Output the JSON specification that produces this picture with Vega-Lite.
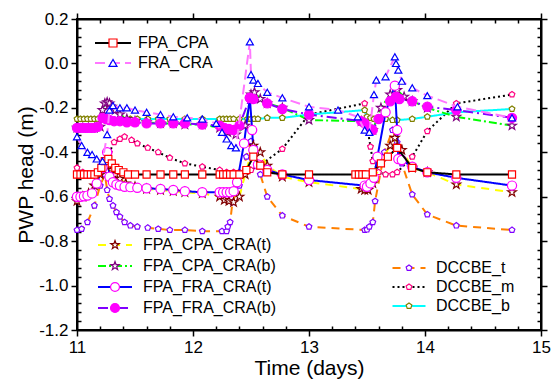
{
"$schema":"https://vega.github.io/schema/vega-lite/v6.json",
"width":464,"height":311,"autosize":"none",
"padding":{"left":77,"top":19,"right":11,"bottom":52},
"background":"white",
"config":{"view":{"stroke":"black","strokeWidth":2},"font":"Liberation Sans",
"axis":{"grid":false,"domainColor":"black","domainWidth":2,"tickColor":"black","tickWidth":1.5,"labelFont":"Liberation Sans","labelFontSize":17,"labelColor":"black","titleFont":"Liberation Sans","titleFontSize":21,"titleFontWeight":"normal","titleColor":"black","labelFlush":false,"labelOverlap":false,"labelPadding":3}},
"datasets":{
"g1":[
{"s":"FPA_CPA","x":11.0,"y":-0.5},{"s":"FPA_CPA","x":11.03,"y":-0.5},{"s":"FPA_CPA","x":11.06,"y":-0.5},{"s":"FPA_CPA","x":11.09,"y":-0.5},{"s":"FPA_CPA","x":11.12,"y":-0.5},{"s":"FPA_CPA","x":11.15,"y":-0.5},{"s":"FPA_CPA","x":11.18,"y":-0.49},{"s":"FPA_CPA","x":11.21,"y":-0.47},{"s":"FPA_CPA","x":11.24,"y":-0.44},{"s":"FPA_CPA","x":11.27,"y":-0.43},{"s":"FPA_CPA","x":11.3,"y":-0.45},{"s":"FPA_CPA","x":11.33,"y":-0.47},{"s":"FPA_CPA","x":11.36,"y":-0.48},{"s":"FPA_CPA","x":11.4,"y":-0.49},{"s":"FPA_CPA","x":11.44,"y":-0.5},{"s":"FPA_CPA","x":11.5,"y":-0.5},{"s":"FPA_CPA","x":11.6,"y":-0.5},{"s":"FPA_CPA","x":11.72,"y":-0.5},{"s":"FPA_CPA","x":11.83,"y":-0.5},{"s":"FPA_CPA","x":11.93,"y":-0.5},{"s":"FPA_CPA","x":12.08,"y":-0.5},{"s":"FPA_CPA","x":12.23,"y":-0.5},{"s":"FPA_CPA","x":12.26,"y":-0.5},{"s":"FPA_CPA","x":12.29,"y":-0.5},{"s":"FPA_CPA","x":12.32,"y":-0.5},{"s":"FPA_CPA","x":12.35,"y":-0.5},{"s":"FPA_CPA","x":12.4,"y":-0.5},{"s":"FPA_CPA","x":12.46,"y":-0.48},{"s":"FPA_CPA","x":12.52,"y":-0.42},{"s":"FPA_CPA","x":12.58,"y":-0.46},{"s":"FPA_CPA","x":12.64,"y":-0.49},{"s":"FPA_CPA","x":12.77,"y":-0.5},{"s":"FPA_CPA","x":13.0,"y":-0.5},{"s":"FPA_CPA","x":13.4,"y":-0.5},{"s":"FPA_CPA","x":13.43,"y":-0.5},{"s":"FPA_CPA","x":13.46,"y":-0.5},{"s":"FPA_CPA","x":13.49,"y":-0.5},{"s":"FPA_CPA","x":13.55,"y":-0.49},{"s":"FPA_CPA","x":13.62,"y":-0.45},{"s":"FPA_CPA","x":13.68,"y":-0.42},{"s":"FPA_CPA","x":13.76,"y":-0.38},{"s":"FPA_CPA","x":13.89,"y":-0.47},{"s":"FPA_CPA","x":14.02,"y":-0.49},{"s":"FPA_CPA","x":14.27,"y":-0.5},{"s":"FPA_CPA","x":14.75,"y":-0.5},
{"s":"FRA_CRA","x":11.0,"y":-0.33},{"s":"FRA_CRA","x":11.04,"y":-0.37},{"s":"FRA_CRA","x":11.09,"y":-0.4},{"s":"FRA_CRA","x":11.13,"y":-0.41},{"s":"FRA_CRA","x":11.17,"y":-0.43},{"s":"FRA_CRA","x":11.22,"y":-0.44},{"s":"FRA_CRA","x":11.26,"y":-0.32},{"s":"FRA_CRA","x":11.28,"y":-0.21},{"s":"FRA_CRA","x":11.31,"y":-0.19},{"s":"FRA_CRA","x":11.37,"y":-0.2},{"s":"FRA_CRA","x":11.43,"y":-0.2},{"s":"FRA_CRA","x":11.5,"y":-0.21},{"s":"FRA_CRA","x":11.6,"y":-0.22},{"s":"FRA_CRA","x":11.72,"y":-0.23},{"s":"FRA_CRA","x":11.83,"y":-0.24},{"s":"FRA_CRA","x":11.95,"y":-0.245},{"s":"FRA_CRA","x":12.08,"y":-0.25},{"s":"FRA_CRA","x":12.2,"y":-0.27},{"s":"FRA_CRA","x":12.25,"y":-0.31},{"s":"FRA_CRA","x":12.29,"y":-0.34},{"s":"FRA_CRA","x":12.33,"y":-0.37},{"s":"FRA_CRA","x":12.37,"y":-0.38},{"s":"FRA_CRA","x":12.49,"y":0.097},{"s":"FRA_CRA","x":12.5,"y":-0.05},{"s":"FRA_CRA","x":12.52,"y":-0.075},{"s":"FRA_CRA","x":12.56,"y":-0.09},{"s":"FRA_CRA","x":12.64,"y":-0.13},{"s":"FRA_CRA","x":12.77,"y":-0.155},{"s":"FRA_CRA","x":13.0,"y":-0.195},{"s":"FRA_CRA","x":13.25,"y":-0.21},{"s":"FRA_CRA","x":13.42,"y":-0.24},{"s":"FRA_CRA","x":13.48,"y":-0.3},{"s":"FRA_CRA","x":13.52,"y":-0.31},{"s":"FRA_CRA","x":13.56,"y":-0.14},{"s":"FRA_CRA","x":13.58,"y":-0.075},{"s":"FRA_CRA","x":13.66,"y":-0.06},{"s":"FRA_CRA","x":13.74,"y":0.03},{"s":"FRA_CRA","x":13.75,"y":0.0},{"s":"FRA_CRA","x":13.77,"y":-0.03},{"s":"FRA_CRA","x":13.8,"y":-0.08},{"s":"FRA_CRA","x":13.89,"y":-0.11},{"s":"FRA_CRA","x":14.02,"y":-0.145},{"s":"FRA_CRA","x":14.28,"y":-0.195},{"s":"FRA_CRA","x":14.75,"y":-0.245}
],
"g2":[
{"s":"FPA_CPA_CRA(t)","x":11.0,"y":-0.62},{"s":"FPA_CPA_CRA(t)","x":11.05,"y":-0.6},{"s":"FPA_CPA_CRA(t)","x":11.1,"y":-0.585},{"s":"FPA_CPA_CRA(t)","x":11.15,"y":-0.55},{"s":"FPA_CPA_CRA(t)","x":11.2,"y":-0.5},{"s":"FPA_CPA_CRA(t)","x":11.24,"y":-0.45},{"s":"FPA_CPA_CRA(t)","x":11.27,"y":-0.46},{"s":"FPA_CPA_CRA(t)","x":11.3,"y":-0.48},{"s":"FPA_CPA_CRA(t)","x":11.33,"y":-0.5},{"s":"FPA_CPA_CRA(t)","x":11.37,"y":-0.52},{"s":"FPA_CPA_CRA(t)","x":11.42,"y":-0.54},{"s":"FPA_CPA_CRA(t)","x":11.5,"y":-0.555},{"s":"FPA_CPA_CRA(t)","x":11.6,"y":-0.565},{"s":"FPA_CPA_CRA(t)","x":11.72,"y":-0.57},{"s":"FPA_CPA_CRA(t)","x":11.83,"y":-0.575},{"s":"FPA_CPA_CRA(t)","x":11.93,"y":-0.58},{"s":"FPA_CPA_CRA(t)","x":12.08,"y":-0.585},{"s":"FPA_CPA_CRA(t)","x":12.23,"y":-0.6},{"s":"FPA_CPA_CRA(t)","x":12.27,"y":-0.615},{"s":"FPA_CPA_CRA(t)","x":12.31,"y":-0.62},{"s":"FPA_CPA_CRA(t)","x":12.35,"y":-0.625},{"s":"FPA_CPA_CRA(t)","x":12.4,"y":-0.6},{"s":"FPA_CPA_CRA(t)","x":12.45,"y":-0.5},{"s":"FPA_CPA_CRA(t)","x":12.52,"y":-0.37},{"s":"FPA_CPA_CRA(t)","x":12.58,"y":-0.4},{"s":"FPA_CPA_CRA(t)","x":12.64,"y":-0.46},{"s":"FPA_CPA_CRA(t)","x":12.77,"y":-0.51},{"s":"FPA_CPA_CRA(t)","x":13.0,"y":-0.535},{"s":"FPA_CPA_CRA(t)","x":13.45,"y":-0.565},{"s":"FPA_CPA_CRA(t)","x":13.48,"y":-0.57},{"s":"FPA_CPA_CRA(t)","x":13.51,"y":-0.57},{"s":"FPA_CPA_CRA(t)","x":13.55,"y":-0.54},{"s":"FPA_CPA_CRA(t)","x":13.62,"y":-0.445},{"s":"FPA_CPA_CRA(t)","x":13.7,"y":-0.37},{"s":"FPA_CPA_CRA(t)","x":13.74,"y":-0.335},{"s":"FPA_CPA_CRA(t)","x":13.76,"y":-0.375},{"s":"FPA_CPA_CRA(t)","x":13.8,"y":-0.39},{"s":"FPA_CPA_CRA(t)","x":13.89,"y":-0.47},{"s":"FPA_CPA_CRA(t)","x":14.02,"y":-0.49},{"s":"FPA_CPA_CRA(t)","x":14.27,"y":-0.545},{"s":"FPA_CPA_CRA(t)","x":14.75,"y":-0.58},
{"s":"FPA_CPA_CRA(b)","x":11.0,"y":-0.29},{"s":"FPA_CPA_CRA(b)","x":11.05,"y":-0.29},{"s":"FPA_CPA_CRA(b)","x":11.1,"y":-0.29},{"s":"FPA_CPA_CRA(b)","x":11.15,"y":-0.29},{"s":"FPA_CPA_CRA(b)","x":11.2,"y":-0.285},{"s":"FPA_CPA_CRA(b)","x":11.22,"y":-0.21},{"s":"FPA_CPA_CRA(b)","x":11.24,"y":-0.18},{"s":"FPA_CPA_CRA(b)","x":11.26,"y":-0.175},{"s":"FPA_CPA_CRA(b)","x":11.28,"y":-0.18},{"s":"FPA_CPA_CRA(b)","x":11.3,"y":-0.195},{"s":"FPA_CPA_CRA(b)","x":11.33,"y":-0.21},{"s":"FPA_CPA_CRA(b)","x":11.37,"y":-0.23},{"s":"FPA_CPA_CRA(b)","x":11.43,"y":-0.25},{"s":"FPA_CPA_CRA(b)","x":11.5,"y":-0.26},{"s":"FPA_CPA_CRA(b)","x":11.6,"y":-0.265},{"s":"FPA_CPA_CRA(b)","x":11.72,"y":-0.27},{"s":"FPA_CPA_CRA(b)","x":11.83,"y":-0.27},{"s":"FPA_CPA_CRA(b)","x":11.93,"y":-0.275},{"s":"FPA_CPA_CRA(b)","x":12.08,"y":-0.275},{"s":"FPA_CPA_CRA(b)","x":12.23,"y":-0.29},{"s":"FPA_CPA_CRA(b)","x":12.3,"y":-0.31},{"s":"FPA_CPA_CRA(b)","x":12.37,"y":-0.32},{"s":"FPA_CPA_CRA(b)","x":12.45,"y":-0.28},{"s":"FPA_CPA_CRA(b)","x":12.5,"y":-0.14},{"s":"FPA_CPA_CRA(b)","x":12.53,"y":-0.13},{"s":"FPA_CPA_CRA(b)","x":12.58,"y":-0.16},{"s":"FPA_CPA_CRA(b)","x":12.64,"y":-0.18},{"s":"FPA_CPA_CRA(b)","x":12.77,"y":-0.2},{"s":"FPA_CPA_CRA(b)","x":13.0,"y":-0.255},{"s":"FPA_CPA_CRA(b)","x":13.45,"y":-0.26},{"s":"FPA_CPA_CRA(b)","x":13.5,"y":-0.29},{"s":"FPA_CPA_CRA(b)","x":13.55,"y":-0.3},{"s":"FPA_CPA_CRA(b)","x":13.62,"y":-0.2},{"s":"FPA_CPA_CRA(b)","x":13.7,"y":-0.14},{"s":"FPA_CPA_CRA(b)","x":13.76,"y":-0.12},{"s":"FPA_CPA_CRA(b)","x":13.82,"y":-0.15},{"s":"FPA_CPA_CRA(b)","x":13.89,"y":-0.17},{"s":"FPA_CPA_CRA(b)","x":14.02,"y":-0.2},{"s":"FPA_CPA_CRA(b)","x":14.27,"y":-0.24},{"s":"FPA_CPA_CRA(b)","x":14.75,"y":-0.28},
{"s":"FPA_FRA_CRA(t)","x":11.0,"y":-0.6},{"s":"FPA_FRA_CRA(t)","x":11.03,"y":-0.6},{"s":"FPA_FRA_CRA(t)","x":11.06,"y":-0.598},{"s":"FPA_FRA_CRA(t)","x":11.09,"y":-0.595},{"s":"FPA_FRA_CRA(t)","x":11.13,"y":-0.585},{"s":"FPA_FRA_CRA(t)","x":11.17,"y":-0.54},{"s":"FPA_FRA_CRA(t)","x":11.22,"y":-0.47},{"s":"FPA_FRA_CRA(t)","x":11.26,"y":-0.4},{"s":"FPA_FRA_CRA(t)","x":11.28,"y":-0.51},{"s":"FPA_FRA_CRA(t)","x":11.31,"y":-0.535},{"s":"FPA_FRA_CRA(t)","x":11.34,"y":-0.545},{"s":"FPA_FRA_CRA(t)","x":11.37,"y":-0.55},{"s":"FPA_FRA_CRA(t)","x":11.41,"y":-0.555},{"s":"FPA_FRA_CRA(t)","x":11.46,"y":-0.557},{"s":"FPA_FRA_CRA(t)","x":11.52,"y":-0.56},{"s":"FPA_FRA_CRA(t)","x":11.6,"y":-0.562},{"s":"FPA_FRA_CRA(t)","x":11.72,"y":-0.565},{"s":"FPA_FRA_CRA(t)","x":11.83,"y":-0.57},{"s":"FPA_FRA_CRA(t)","x":11.93,"y":-0.575},{"s":"FPA_FRA_CRA(t)","x":12.08,"y":-0.58},{"s":"FPA_FRA_CRA(t)","x":12.23,"y":-0.58},{"s":"FPA_FRA_CRA(t)","x":12.26,"y":-0.58},{"s":"FPA_FRA_CRA(t)","x":12.29,"y":-0.58},{"s":"FPA_FRA_CRA(t)","x":12.32,"y":-0.58},{"s":"FPA_FRA_CRA(t)","x":12.35,"y":-0.575},{"s":"FPA_FRA_CRA(t)","x":12.38,"y":-0.535},{"s":"FPA_FRA_CRA(t)","x":12.44,"y":-0.36},{"s":"FPA_FRA_CRA(t)","x":12.49,"y":-0.155},{"s":"FPA_FRA_CRA(t)","x":12.51,"y":-0.3},{"s":"FPA_FRA_CRA(t)","x":12.52,"y":-0.39},{"s":"FPA_FRA_CRA(t)","x":12.56,"y":-0.455},{"s":"FPA_FRA_CRA(t)","x":12.64,"y":-0.48},{"s":"FPA_FRA_CRA(t)","x":12.77,"y":-0.5},{"s":"FPA_FRA_CRA(t)","x":13.0,"y":-0.525},{"s":"FPA_FRA_CRA(t)","x":13.48,"y":-0.55},{"s":"FPA_FRA_CRA(t)","x":13.5,"y":-0.555},{"s":"FPA_FRA_CRA(t)","x":13.53,"y":-0.54},{"s":"FPA_FRA_CRA(t)","x":13.56,"y":-0.515},{"s":"FPA_FRA_CRA(t)","x":13.59,"y":-0.42},{"s":"FPA_FRA_CRA(t)","x":13.66,"y":-0.22},{"s":"FPA_FRA_CRA(t)","x":13.74,"y":-0.1},{"s":"FPA_FRA_CRA(t)","x":13.76,"y":-0.3},{"s":"FPA_FRA_CRA(t)","x":13.77,"y":-0.43},{"s":"FPA_FRA_CRA(t)","x":13.8,"y":-0.435},{"s":"FPA_FRA_CRA(t)","x":13.89,"y":-0.465},{"s":"FPA_FRA_CRA(t)","x":14.02,"y":-0.49},{"s":"FPA_FRA_CRA(t)","x":14.27,"y":-0.515},{"s":"FPA_FRA_CRA(t)","x":14.75,"y":-0.55},
{"s":"FPA_FRA_CRA(b)","x":11.0,"y":-0.29},{"s":"FPA_FRA_CRA(b)","x":11.03,"y":-0.29},{"s":"FPA_FRA_CRA(b)","x":11.06,"y":-0.29},{"s":"FPA_FRA_CRA(b)","x":11.09,"y":-0.29},{"s":"FPA_FRA_CRA(b)","x":11.12,"y":-0.29},{"s":"FPA_FRA_CRA(b)","x":11.15,"y":-0.29},{"s":"FPA_FRA_CRA(b)","x":11.18,"y":-0.285},{"s":"FPA_FRA_CRA(b)","x":11.22,"y":-0.245},{"s":"FPA_FRA_CRA(b)","x":11.25,"y":-0.25},{"s":"FPA_FRA_CRA(b)","x":11.28,"y":-0.255},{"s":"FPA_FRA_CRA(b)","x":11.32,"y":-0.26},{"s":"FPA_FRA_CRA(b)","x":11.37,"y":-0.26},{"s":"FPA_FRA_CRA(b)","x":11.43,"y":-0.265},{"s":"FPA_FRA_CRA(b)","x":11.5,"y":-0.265},{"s":"FPA_FRA_CRA(b)","x":11.6,"y":-0.27},{"s":"FPA_FRA_CRA(b)","x":11.72,"y":-0.27},{"s":"FPA_FRA_CRA(b)","x":11.83,"y":-0.27},{"s":"FPA_FRA_CRA(b)","x":11.93,"y":-0.27},{"s":"FPA_FRA_CRA(b)","x":12.08,"y":-0.275},{"s":"FPA_FRA_CRA(b)","x":12.23,"y":-0.28},{"s":"FPA_FRA_CRA(b)","x":12.27,"y":-0.29},{"s":"FPA_FRA_CRA(b)","x":12.31,"y":-0.295},{"s":"FPA_FRA_CRA(b)","x":12.35,"y":-0.3},{"s":"FPA_FRA_CRA(b)","x":12.4,"y":-0.28},{"s":"FPA_FRA_CRA(b)","x":12.49,"y":-0.155},{"s":"FPA_FRA_CRA(b)","x":12.52,"y":-0.16},{"s":"FPA_FRA_CRA(b)","x":12.64,"y":-0.18},{"s":"FPA_FRA_CRA(b)","x":12.77,"y":-0.205},{"s":"FPA_FRA_CRA(b)","x":13.0,"y":-0.23},{"s":"FPA_FRA_CRA(b)","x":13.45,"y":-0.26},{"s":"FPA_FRA_CRA(b)","x":13.48,"y":-0.27},{"s":"FPA_FRA_CRA(b)","x":13.51,"y":-0.29},{"s":"FPA_FRA_CRA(b)","x":13.55,"y":-0.3},{"s":"FPA_FRA_CRA(b)","x":13.6,"y":-0.25},{"s":"FPA_FRA_CRA(b)","x":13.7,"y":-0.17},{"s":"FPA_FRA_CRA(b)","x":13.75,"y":-0.15},{"s":"FPA_FRA_CRA(b)","x":13.78,"y":-0.16},{"s":"FPA_FRA_CRA(b)","x":13.89,"y":-0.17},{"s":"FPA_FRA_CRA(b)","x":14.02,"y":-0.195},{"s":"FPA_FRA_CRA(b)","x":14.27,"y":-0.21},{"s":"FPA_FRA_CRA(b)","x":14.75,"y":-0.245}
],
"g3":[
{"s":"DCCBE_t","x":11.0,"y":-0.75},{"s":"DCCBE_t","x":11.04,"y":-0.745},{"s":"DCCBE_t","x":11.09,"y":-0.715},{"s":"DCCBE_t","x":11.15,"y":-0.64},{"s":"DCCBE_t","x":11.2,"y":-0.55},{"s":"DCCBE_t","x":11.24,"y":-0.5},{"s":"DCCBE_t","x":11.26,"y":-0.57},{"s":"DCCBE_t","x":11.28,"y":-0.61},{"s":"DCCBE_t","x":11.31,"y":-0.64},{"s":"DCCBE_t","x":11.34,"y":-0.67},{"s":"DCCBE_t","x":11.37,"y":-0.69},{"s":"DCCBE_t","x":11.41,"y":-0.715},{"s":"DCCBE_t","x":11.46,"y":-0.73},{"s":"DCCBE_t","x":11.52,"y":-0.735},{"s":"DCCBE_t","x":11.61,"y":-0.74},{"s":"DCCBE_t","x":11.7,"y":-0.745},{"s":"DCCBE_t","x":11.8,"y":-0.75},{"s":"DCCBE_t","x":11.93,"y":-0.75},{"s":"DCCBE_t","x":12.08,"y":-0.755},{"s":"DCCBE_t","x":12.25,"y":-0.755},{"s":"DCCBE_t","x":12.29,"y":-0.755},{"s":"DCCBE_t","x":12.3,"y":-0.735},{"s":"DCCBE_t","x":12.32,"y":-0.715},{"s":"DCCBE_t","x":12.34,"y":-0.625},{"s":"DCCBE_t","x":12.4,"y":-0.55},{"s":"DCCBE_t","x":12.46,"y":-0.42},{"s":"DCCBE_t","x":12.5,"y":-0.35},{"s":"DCCBE_t","x":12.53,"y":-0.38},{"s":"DCCBE_t","x":12.58,"y":-0.5},{"s":"DCCBE_t","x":12.64,"y":-0.6},{"s":"DCCBE_t","x":12.77,"y":-0.685},{"s":"DCCBE_t","x":13.0,"y":-0.735},{"s":"DCCBE_t","x":13.48,"y":-0.75},{"s":"DCCBE_t","x":13.5,"y":-0.748},{"s":"DCCBE_t","x":13.52,"y":-0.735},{"s":"DCCBE_t","x":13.55,"y":-0.715},{"s":"DCCBE_t","x":13.57,"y":-0.62},{"s":"DCCBE_t","x":13.65,"y":-0.4},{"s":"DCCBE_t","x":13.72,"y":-0.3},{"s":"DCCBE_t","x":13.76,"y":-0.355},{"s":"DCCBE_t","x":13.8,"y":-0.45},{"s":"DCCBE_t","x":13.89,"y":-0.59},{"s":"DCCBE_t","x":14.02,"y":-0.68},{"s":"DCCBE_t","x":14.27,"y":-0.73},{"s":"DCCBE_t","x":14.75,"y":-0.75},
{"s":"DCCBE_m","x":11.0,"y":-0.47},{"s":"DCCBE_m","x":11.05,"y":-0.49},{"s":"DCCBE_m","x":11.1,"y":-0.5},{"s":"DCCBE_m","x":11.15,"y":-0.5},{"s":"DCCBE_m","x":11.2,"y":-0.48},{"s":"DCCBE_m","x":11.28,"y":-0.4},{"s":"DCCBE_m","x":11.32,"y":-0.355},{"s":"DCCBE_m","x":11.37,"y":-0.34},{"s":"DCCBE_m","x":11.41,"y":-0.33},{"s":"DCCBE_m","x":11.47,"y":-0.345},{"s":"DCCBE_m","x":11.52,"y":-0.36},{"s":"DCCBE_m","x":11.61,"y":-0.38},{"s":"DCCBE_m","x":11.7,"y":-0.4},{"s":"DCCBE_m","x":11.8,"y":-0.425},{"s":"DCCBE_m","x":11.93,"y":-0.45},{"s":"DCCBE_m","x":12.08,"y":-0.465},{"s":"DCCBE_m","x":12.23,"y":-0.48},{"s":"DCCBE_m","x":12.29,"y":-0.49},{"s":"DCCBE_m","x":12.35,"y":-0.49},{"s":"DCCBE_m","x":12.4,"y":-0.49},{"s":"DCCBE_m","x":12.5,"y":-0.48},{"s":"DCCBE_m","x":12.6,"y":-0.45},{"s":"DCCBE_m","x":12.77,"y":-0.385},{"s":"DCCBE_m","x":13.0,"y":-0.23},{"s":"DCCBE_m","x":13.48,"y":-0.18},{"s":"DCCBE_m","x":13.5,"y":-0.28},{"s":"DCCBE_m","x":13.53,"y":-0.375},{"s":"DCCBE_m","x":13.55,"y":-0.44},{"s":"DCCBE_m","x":13.6,"y":-0.49},{"s":"DCCBE_m","x":13.66,"y":-0.5},{"s":"DCCBE_m","x":13.72,"y":-0.5},{"s":"DCCBE_m","x":13.76,"y":-0.49},{"s":"DCCBE_m","x":13.89,"y":-0.42},{"s":"DCCBE_m","x":14.02,"y":-0.305},{"s":"DCCBE_m","x":14.27,"y":-0.18},{"s":"DCCBE_m","x":14.75,"y":-0.14},
{"s":"DCCBE_b","x":11.0,"y":-0.25},{"s":"DCCBE_b","x":11.03,"y":-0.25},{"s":"DCCBE_b","x":11.06,"y":-0.25},{"s":"DCCBE_b","x":11.09,"y":-0.25},{"s":"DCCBE_b","x":11.12,"y":-0.25},{"s":"DCCBE_b","x":11.15,"y":-0.25},{"s":"DCCBE_b","x":11.18,"y":-0.25},{"s":"DCCBE_b","x":11.23,"y":-0.255},{"s":"DCCBE_b","x":11.26,"y":-0.255},{"s":"DCCBE_b","x":11.29,"y":-0.255},{"s":"DCCBE_b","x":11.32,"y":-0.255},{"s":"DCCBE_b","x":11.36,"y":-0.255},{"s":"DCCBE_b","x":11.4,"y":-0.253},{"s":"DCCBE_b","x":11.46,"y":-0.25},{"s":"DCCBE_b","x":11.52,"y":-0.25},{"s":"DCCBE_b","x":11.61,"y":-0.25},{"s":"DCCBE_b","x":11.7,"y":-0.25},{"s":"DCCBE_b","x":11.8,"y":-0.25},{"s":"DCCBE_b","x":11.93,"y":-0.25},{"s":"DCCBE_b","x":12.08,"y":-0.25},{"s":"DCCBE_b","x":12.23,"y":-0.25},{"s":"DCCBE_b","x":12.26,"y":-0.25},{"s":"DCCBE_b","x":12.29,"y":-0.25},{"s":"DCCBE_b","x":12.32,"y":-0.25},{"s":"DCCBE_b","x":12.35,"y":-0.25},{"s":"DCCBE_b","x":12.4,"y":-0.25},{"s":"DCCBE_b","x":12.47,"y":-0.25},{"s":"DCCBE_b","x":12.5,"y":-0.25},{"s":"DCCBE_b","x":12.53,"y":-0.25},{"s":"DCCBE_b","x":12.56,"y":-0.25},{"s":"DCCBE_b","x":12.64,"y":-0.245},{"s":"DCCBE_b","x":12.77,"y":-0.245},{"s":"DCCBE_b","x":13.0,"y":-0.23},{"s":"DCCBE_b","x":13.48,"y":-0.21},{"s":"DCCBE_b","x":13.5,"y":-0.24},{"s":"DCCBE_b","x":13.53,"y":-0.245},{"s":"DCCBE_b","x":13.56,"y":-0.25},{"s":"DCCBE_b","x":13.6,"y":-0.25},{"s":"DCCBE_b","x":13.66,"y":-0.25},{"s":"DCCBE_b","x":13.72,"y":-0.255},{"s":"DCCBE_b","x":13.76,"y":-0.255},{"s":"DCCBE_b","x":13.89,"y":-0.25},{"s":"DCCBE_b","x":14.02,"y":-0.24},{"s":"DCCBE_b","x":14.27,"y":-0.22},{"s":"DCCBE_b","x":14.75,"y":-0.205}
],
"frame":[{"x":11,"y":0}]
},
"layer":[
{"data":{"name":"frame"},"mark":{"type":"point","opacity":0},
"encoding":{
"x":{"field":"x","type":"quantitative","scale":{"domain":[11,15],"nice":false,"zero":false},
"axis":{"orient":"bottom","title":"Time (days)","titlePadding":2,"values":[11,11.2,11.4,11.6,11.8,12,12.2,12.4,12.6,12.8,13,13.2,13.4,13.6,13.8,14,14.2,14.4,14.6,14.8,15],
"labelExpr":"abs(datum.value-round(datum.value))<0.001 ? format(datum.value,'d') : ''",
"tickSize":{"condition":{"test":"abs(datum.value-round(datum.value))<0.001","value":6},"value":-4}}},
"y":{"field":"y","type":"quantitative","scale":{"domain":[-1.2,0.2],"nice":false,"zero":false},
"axis":{"orient":"left","title":"PWP head (m)","titlePadding":2,"values":[-1.2,-1.16,-1.12,-1.08,-1.04,-1,-0.96,-0.92,-0.88,-0.84,-0.8,-0.76,-0.72,-0.68,-0.64,-0.6,-0.56,-0.52,-0.48,-0.44,-0.4,-0.36,-0.32,-0.28,-0.24,-0.2,-0.16,-0.12,-0.08,-0.04,0,0.04,0.08,0.12,0.16,0.2],
"labelExpr":"abs(datum.value*5-round(datum.value*5))<0.001 ? replace(format(datum.value,'.1f'),'−','-') : ''",
"tickSize":{"condition":{"test":"abs(datum.value*5-round(datum.value*5))<0.001","value":6},"value":-4}}}}},
{"data":{"name":"frame"},"mark":{"type":"point","opacity":0},
"encoding":{
"x":{"field":"x","type":"quantitative","scale":{"domain":[11,15],"nice":false,"zero":false},
"axis":{"orient":"top","title":null,"labels":false,"values":[11,11.2,11.4,11.6,11.8,12,12.2,12.4,12.6,12.8,13,13.2,13.4,13.6,13.8,14,14.2,14.4,14.6,14.8,15],
"tickSize":{"condition":{"test":"abs(datum.value-round(datum.value))<0.001","value":6},"value":-4}}},
"y":{"field":"y","type":"quantitative","scale":{"domain":[-1.2,0.2],"nice":false,"zero":false},
"axis":{"orient":"right","title":null,"labels":false,"values":[-1.2,-1.16,-1.12,-1.08,-1.04,-1,-0.96,-0.92,-0.88,-0.84,-0.8,-0.76,-0.72,-0.68,-0.64,-0.6,-0.56,-0.52,-0.48,-0.44,-0.4,-0.36,-0.32,-0.28,-0.24,-0.2,-0.16,-0.12,-0.08,-0.04,0,0.04,0.08,0.12,0.16,0.2],
"tickSize":{"condition":{"test":"abs(datum.value*5-round(datum.value*5))<0.001","value":6},"value":-4}}}}},
{"data":{"name":"g3"},"mark":{"type":"line","strokeWidth":2},
"encoding":{
"x":{"field":"x","type":"quantitative","scale":{"domain":[11,15],"nice":false,"zero":false},"axis":null},
"y":{"field":"y","type":"quantitative","scale":{"domain":[-1.2,0.2],"nice":false,"zero":false},"axis":null},
"color":{"field":"s","type":"nominal","scale":{"domain":["DCCBE_t","DCCBE_m","DCCBE_b"],"range":["#ff8000","#000000","#00ffff"]},
"legend":{"title":null,"orient":"none","legendX":324,"legendY":241,"symbolType":"M-5.5,0H5.5","symbolSize":36,"symbolStrokeWidth":2,"labelOffset":19,"labelFont":"Liberation Sans","labelFontSize":16,"labelColor":"black","rowPadding":3}},
"strokeDash":{"field":"s","type":"nominal","scale":{"domain":["DCCBE_t","DCCBE_m","DCCBE_b"],"range":[[8,6],[2,3],[1,0]]},
"legend":{"title":null,"orient":"none","legendX":324,"legendY":241,"symbolType":"M-5.5,0H5.5","symbolSize":36,"symbolStrokeWidth":2,"labelOffset":19,"labelFont":"Liberation Sans","labelFontSize":16,"labelColor":"black","rowPadding":3}}}},
{"data":{"name":"g3"},"mark":{"type":"point","filled":true,"size":36,"strokeWidth":1.2,"opacity":1},
"encoding":{
"x":{"field":"x","type":"quantitative","scale":{"domain":[11,15],"nice":false,"zero":false},"axis":null},
"y":{"field":"y","type":"quantitative","scale":{"domain":[-1.2,0.2],"nice":false,"zero":false},"axis":null},
"shape":{"field":"s","type":"nominal","scale":{"domain":["DCCBE_t","DCCBE_m","DCCBE_b"],"range":["M0,-1L0.951,-0.309L0.588,0.809L-0.588,0.809L-0.951,-0.309Z","M0,-1L0.951,-0.309L0.588,0.809L-0.588,0.809L-0.951,-0.309Z","M0,-1L0.951,-0.309L0.588,0.809L-0.588,0.809L-0.951,-0.309Z"]},
"legend":{"title":null,"orient":"none","legendX":324,"legendY":241,"symbolSize":36,"symbolStrokeWidth":1.2,"labelOffset":19,"labelFont":"Liberation Sans","labelFontSize":16,"labelOpacity":0,"rowPadding":3}},
"stroke":{"field":"s","type":"nominal","scale":{"domain":["DCCBE_t","DCCBE_m","DCCBE_b"],"range":["#8000ff","#ff0080","#808000"]},
"legend":{"title":null,"orient":"none","legendX":324,"legendY":241,"symbolSize":36,"symbolStrokeWidth":1.2,"labelOffset":19,"labelFont":"Liberation Sans","labelFontSize":16,"labelOpacity":0,"rowPadding":3}},
"fill":{"field":"s","type":"nominal","scale":{"domain":["DCCBE_t","DCCBE_m","DCCBE_b"],"range":["#ffffff","#ffffff","#ffffff"]},
"legend":{"title":null,"orient":"none","legendX":324,"legendY":241,"symbolSize":36,"symbolStrokeWidth":1.2,"labelOffset":19,"labelFont":"Liberation Sans","labelFontSize":16,"labelOpacity":0,"rowPadding":3}}}},
{"data":{"name":"g2"},"mark":{"type":"line","strokeWidth":2},
"encoding":{
"x":{"field":"x","type":"quantitative","scale":{"domain":[11,15],"nice":false,"zero":false},"axis":null},
"y":{"field":"y","type":"quantitative","scale":{"domain":[-1.2,0.2],"nice":false,"zero":false},"axis":null},
"color":{"field":"s","type":"nominal","scale":{"domain":["FPA_CPA_CRA(t)","FPA_CPA_CRA(b)","FPA_FRA_CRA(t)","FPA_FRA_CRA(b)"],"range":["#ffff00","#00ff00","#0000ff","#8000ff"]},
"legend":{"title":null,"orient":"none","legendX":30,"legendY":218,"symbolType":"M-3.8,0H3.8","symbolSize":80,"symbolStrokeWidth":2,"labelOffset":20,"labelFont":"Liberation Sans","labelFontSize":16,"labelColor":"black","rowPadding":5}},
"strokeDash":{"field":"s","type":"nominal","scale":{"domain":["FPA_CPA_CRA(t)","FPA_CPA_CRA(b)","FPA_FRA_CRA(t)","FPA_FRA_CRA(b)"],"range":[[8,6],[8,3,2,3],[1,0],[10,4,2,4]]},
"legend":{"title":null,"orient":"none","legendX":30,"legendY":218,"symbolType":"M-3.8,0H3.8","symbolSize":80,"symbolStrokeWidth":2,"labelOffset":20,"labelFont":"Liberation Sans","labelFontSize":16,"labelColor":"black","rowPadding":5}}}},
{"data":{"name":"g2"},"mark":{"type":"point","filled":true,"size":85,"strokeWidth":1.2,"opacity":1},
"encoding":{
"x":{"field":"x","type":"quantitative","scale":{"domain":[11,15],"nice":false,"zero":false},"axis":null},
"y":{"field":"y","type":"quantitative","scale":{"domain":[-1.2,0.2],"nice":false,"zero":false},"axis":null},
"shape":{"field":"s","type":"nominal","scale":{"domain":["FPA_CPA_CRA(t)","FPA_CPA_CRA(b)","FPA_FRA_CRA(t)","FPA_FRA_CRA(b)"],"range":["M0,-1L0.235,-0.324L0.951,-0.309L0.38,0.124L0.588,0.809L0,0.4L-0.588,0.809L-0.38,0.124L-0.951,-0.309L-0.235,-0.324Z","M0,-1L0.235,-0.324L0.951,-0.309L0.38,0.124L0.588,0.809L0,0.4L-0.588,0.809L-0.38,0.124L-0.951,-0.309L-0.235,-0.324Z","circle","circle"]},
"legend":{"title":null,"orient":"none","legendX":30,"legendY":218,"symbolSize":80,"symbolStrokeWidth":1.2,"labelOffset":20,"labelFont":"Liberation Sans","labelFontSize":16,"labelOpacity":0,"rowPadding":5}},
"stroke":{"field":"s","type":"nominal","scale":{"domain":["FPA_CPA_CRA(t)","FPA_CPA_CRA(b)","FPA_FRA_CRA(t)","FPA_FRA_CRA(b)"],"range":["#800000","#800080","#ff00ff","#ff00ff"]},
"legend":{"title":null,"orient":"none","legendX":30,"legendY":218,"symbolSize":80,"symbolStrokeWidth":1.2,"labelOffset":20,"labelFont":"Liberation Sans","labelFontSize":16,"labelOpacity":0,"rowPadding":5}},
"fill":{"field":"s","type":"nominal","scale":{"domain":["FPA_CPA_CRA(t)","FPA_CPA_CRA(b)","FPA_FRA_CRA(t)","FPA_FRA_CRA(b)"],"range":["#ffffff","#ffffff","#ffffff","#ff00ff"]},
"legend":{"title":null,"orient":"none","legendX":30,"legendY":218,"symbolSize":80,"symbolStrokeWidth":1.2,"labelOffset":20,"labelFont":"Liberation Sans","labelFontSize":16,"labelOpacity":0,"rowPadding":5}}}},
{"data":{"name":"g1"},"mark":{"type":"line","strokeWidth":2},
"encoding":{
"x":{"field":"x","type":"quantitative","scale":{"domain":[11,15],"nice":false,"zero":false},"axis":null},
"y":{"field":"y","type":"quantitative","scale":{"domain":[-1.2,0.2],"nice":false,"zero":false},"axis":null},
"color":{"field":"s","type":"nominal","scale":{"domain":["FPA_CPA","FRA_CRA"],"range":["#000000","#ff77ff"]},
"legend":{"title":null,"orient":"none","legendX":28,"legendY":16,"symbolType":"M-4.5,0H4.5","symbolSize":64,"symbolStrokeWidth":2,"labelOffset":17,"labelFont":"Liberation Sans","labelFontSize":16,"labelColor":"black","rowPadding":4}},
"strokeDash":{"field":"s","type":"nominal","scale":{"domain":["FPA_CPA","FRA_CRA"],"range":[[1,0],[10,5]]},
"legend":{"title":null,"orient":"none","legendX":28,"legendY":16,"symbolType":"M-4.5,0H4.5","symbolSize":64,"symbolStrokeWidth":2,"labelOffset":17,"labelFont":"Liberation Sans","labelFontSize":16,"labelColor":"black","rowPadding":4}}}},
{"data":{"name":"g1"},"mark":{"type":"point","filled":true,"size":50,"strokeWidth":1.2,"opacity":1},
"encoding":{
"x":{"field":"x","type":"quantitative","scale":{"domain":[11,15],"nice":false,"zero":false},"axis":null},
"y":{"field":"y","type":"quantitative","scale":{"domain":[-1.2,0.2],"nice":false,"zero":false},"axis":null},
"shape":{"field":"s","type":"nominal","scale":{"domain":["FPA_CPA","FRA_CRA"],"range":["square","triangle-up"]},
"legend":{"title":null,"orient":"none","legendX":28,"legendY":16,"symbolSize":64,"symbolStrokeWidth":1.2,"labelOffset":17,"labelFont":"Liberation Sans","labelFontSize":16,"labelOpacity":0,"rowPadding":4}},
"stroke":{"field":"s","type":"nominal","scale":{"domain":["FPA_CPA","FRA_CRA"],"range":["#ff0000","#0000ff"]},
"legend":{"title":null,"orient":"none","legendX":28,"legendY":16,"symbolSize":64,"symbolStrokeWidth":1.2,"labelOffset":17,"labelFont":"Liberation Sans","labelFontSize":16,"labelOpacity":0,"rowPadding":4}},
"fill":{"field":"s","type":"nominal","scale":{"domain":["FPA_CPA","FRA_CRA"],"range":["#ffffff","#ffffff"]},
"legend":{"title":null,"orient":"none","legendX":28,"legendY":16,"symbolSize":64,"symbolStrokeWidth":1.2,"labelOffset":17,"labelFont":"Liberation Sans","labelFontSize":16,"labelOpacity":0,"rowPadding":4}}}}
],
"resolve":{"scale":{"color":"independent","strokeDash":"independent","shape":"independent","stroke":"independent","fill":"independent"},
"legend":{"color":"independent","strokeDash":"independent","shape":"independent","stroke":"independent","fill":"independent"},
"axis":{"x":"independent","y":"independent"}}
}
